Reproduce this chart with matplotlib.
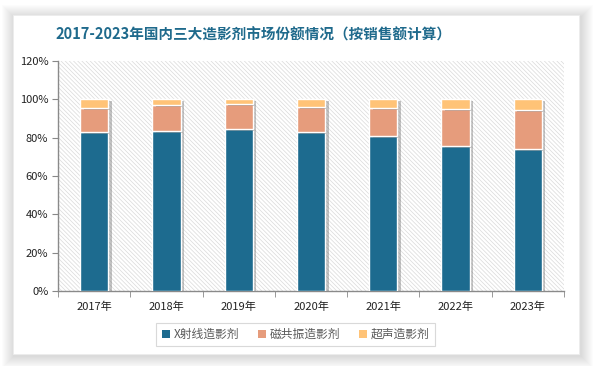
import numpy as np
import matplotlib
matplotlib.use("Agg")
import matplotlib.pyplot as plt
from matplotlib.patches import Rectangle
import matplotlib.patheffects as pe

plt.rcParams['font.family'] = ['Noto Sans CJK SC', 'DejaVu Sans']
plt.rcParams['hatch.linewidth'] = 0.5

# data (share in %)
years = ['2017年', '2018年', '2019年', '2020年', '2021年', '2022年', '2023年']
xray = [82.9, 83.4, 84.4, 82.9, 81.1, 75.9, 74.3]
mri = [12.5, 13.6, 13.1, 13.3, 14.6, 19.3, 20.1]
ultra = [4.6, 3.0, 2.5, 3.8, 4.3, 4.8, 5.6]
names = ['X射线造影剂', '磁共振造影剂', '超声造影剂']
colors = ['#1d6b8f', '#e69c7c', '#ffc377']

W, H = 594, 366
fig = plt.figure(figsize=(W / 100, H / 100), dpi=100)
fig.patch.set_facecolor('white')

# card with soft shadow
cx0, cy0, cx1, cy1 = 13, 15, 579, 354
for k in range(12, 0, -1):
    fig.patches.append(Rectangle(((cx0 - k + 1) / W, 1 - (cy1 + k + 2) / H),
                                 (cx1 - cx0 + 2 * k + 1) / W, (cy1 - cy0 + 2 * k) / H,
                                 transform=fig.transFigure, facecolor='#000000',
                                 alpha=0.012, edgecolor='none', zorder=0))
fig.patches.append(Rectangle((cx0 / W, 1 - cy1 / H), (cx1 - cx0) / W, (cy1 - cy0) / H,
                             transform=fig.transFigure, facecolor='white',
                             edgecolor='#ececec', linewidth=0.6, zorder=1))

ax = fig.add_axes([58 / W, 1 - 291 / H, (564 - 58) / W, (291 - 61) / H])
ax.set_zorder(2)
ax.set_facecolor('none')
ax.add_patch(Rectangle((0, 0), 1, 1, transform=ax.transAxes, facecolor='white',
                       hatch='\\\\\\\\\\\\\\\\', edgecolor='#dadada', linewidth=0, zorder=0))

x = np.arange(len(years))
bottom = np.zeros(len(years))
shadow = [pe.SimplePatchShadow(offset=(2.5, -1.5), shadow_rgbFace='#555555', alpha=0.35),
          pe.Normal()]
for vals, c, n in zip([xray, mri, ultra], colors, names):
    v = np.array(vals) / 100
    bars = ax.bar(x, v, 0.39, bottom=bottom, color=c, edgecolor='white',
                  linewidth=1.0, label=n, zorder=3)
    for b in bars:
        b.set_path_effects(shadow)
    bottom += v

ax.set_xlim(-0.5, len(years) - 0.5)
ax.set_ylim(0, 1.2)
ax.set_yticks(np.arange(0, 1.21, 0.2))
ax.set_yticklabels([f'{int(round(t * 100))}%' for t in np.arange(0, 1.21, 0.2)])
ax.set_xticks(x)
ax.set_xticklabels(years)
ax.set_xticks(np.arange(-0.5, len(years), 1), minor=True)
ax.tick_params(axis='x', which='major', length=0, pad=8, labelsize=8, labelcolor='#222222')
ax.tick_params(axis='x', which='minor', length=4, color='#888888', direction='out')
ax.tick_params(axis='y', length=4, color='#888888', labelsize=8, labelcolor='#222222', pad=3)
for s in ['top', 'right']:
    ax.spines[s].set_visible(False)
for s in ['left', 'bottom']:
    ax.spines[s].set_color('#8a8a8a')
    ax.spines[s].set_linewidth(1.0)

fig.text(253 / W, 1 - 35 / H, '2017-2023年国内三大造影剂市场份额情况（按销售额计算）',
         ha='center', va='center', fontsize=10.5, fontweight='bold', color='#1f6a8c', zorder=5)

leg = fig.legend(loc='center', bbox_to_anchor=(295.5 / W, 1 - 334.5 / H), ncol=3,
                 frameon=True, fontsize=8.5, handlelength=0.7, handleheight=0.7,
                 handletextpad=0.3, columnspacing=1.6, borderpad=0.45, fancybox=False)
leg.get_frame().set_edgecolor('#d0d0d0')
leg.get_frame().set_linewidth(0.8)
leg.set_zorder(5)
for t in leg.get_texts():
    t.set_color('#595959')
for h in leg.legend_handles:
    h.set_path_effects([])
    h.set_edgecolor('none')

fig.savefig('out.png', dpi=100)
